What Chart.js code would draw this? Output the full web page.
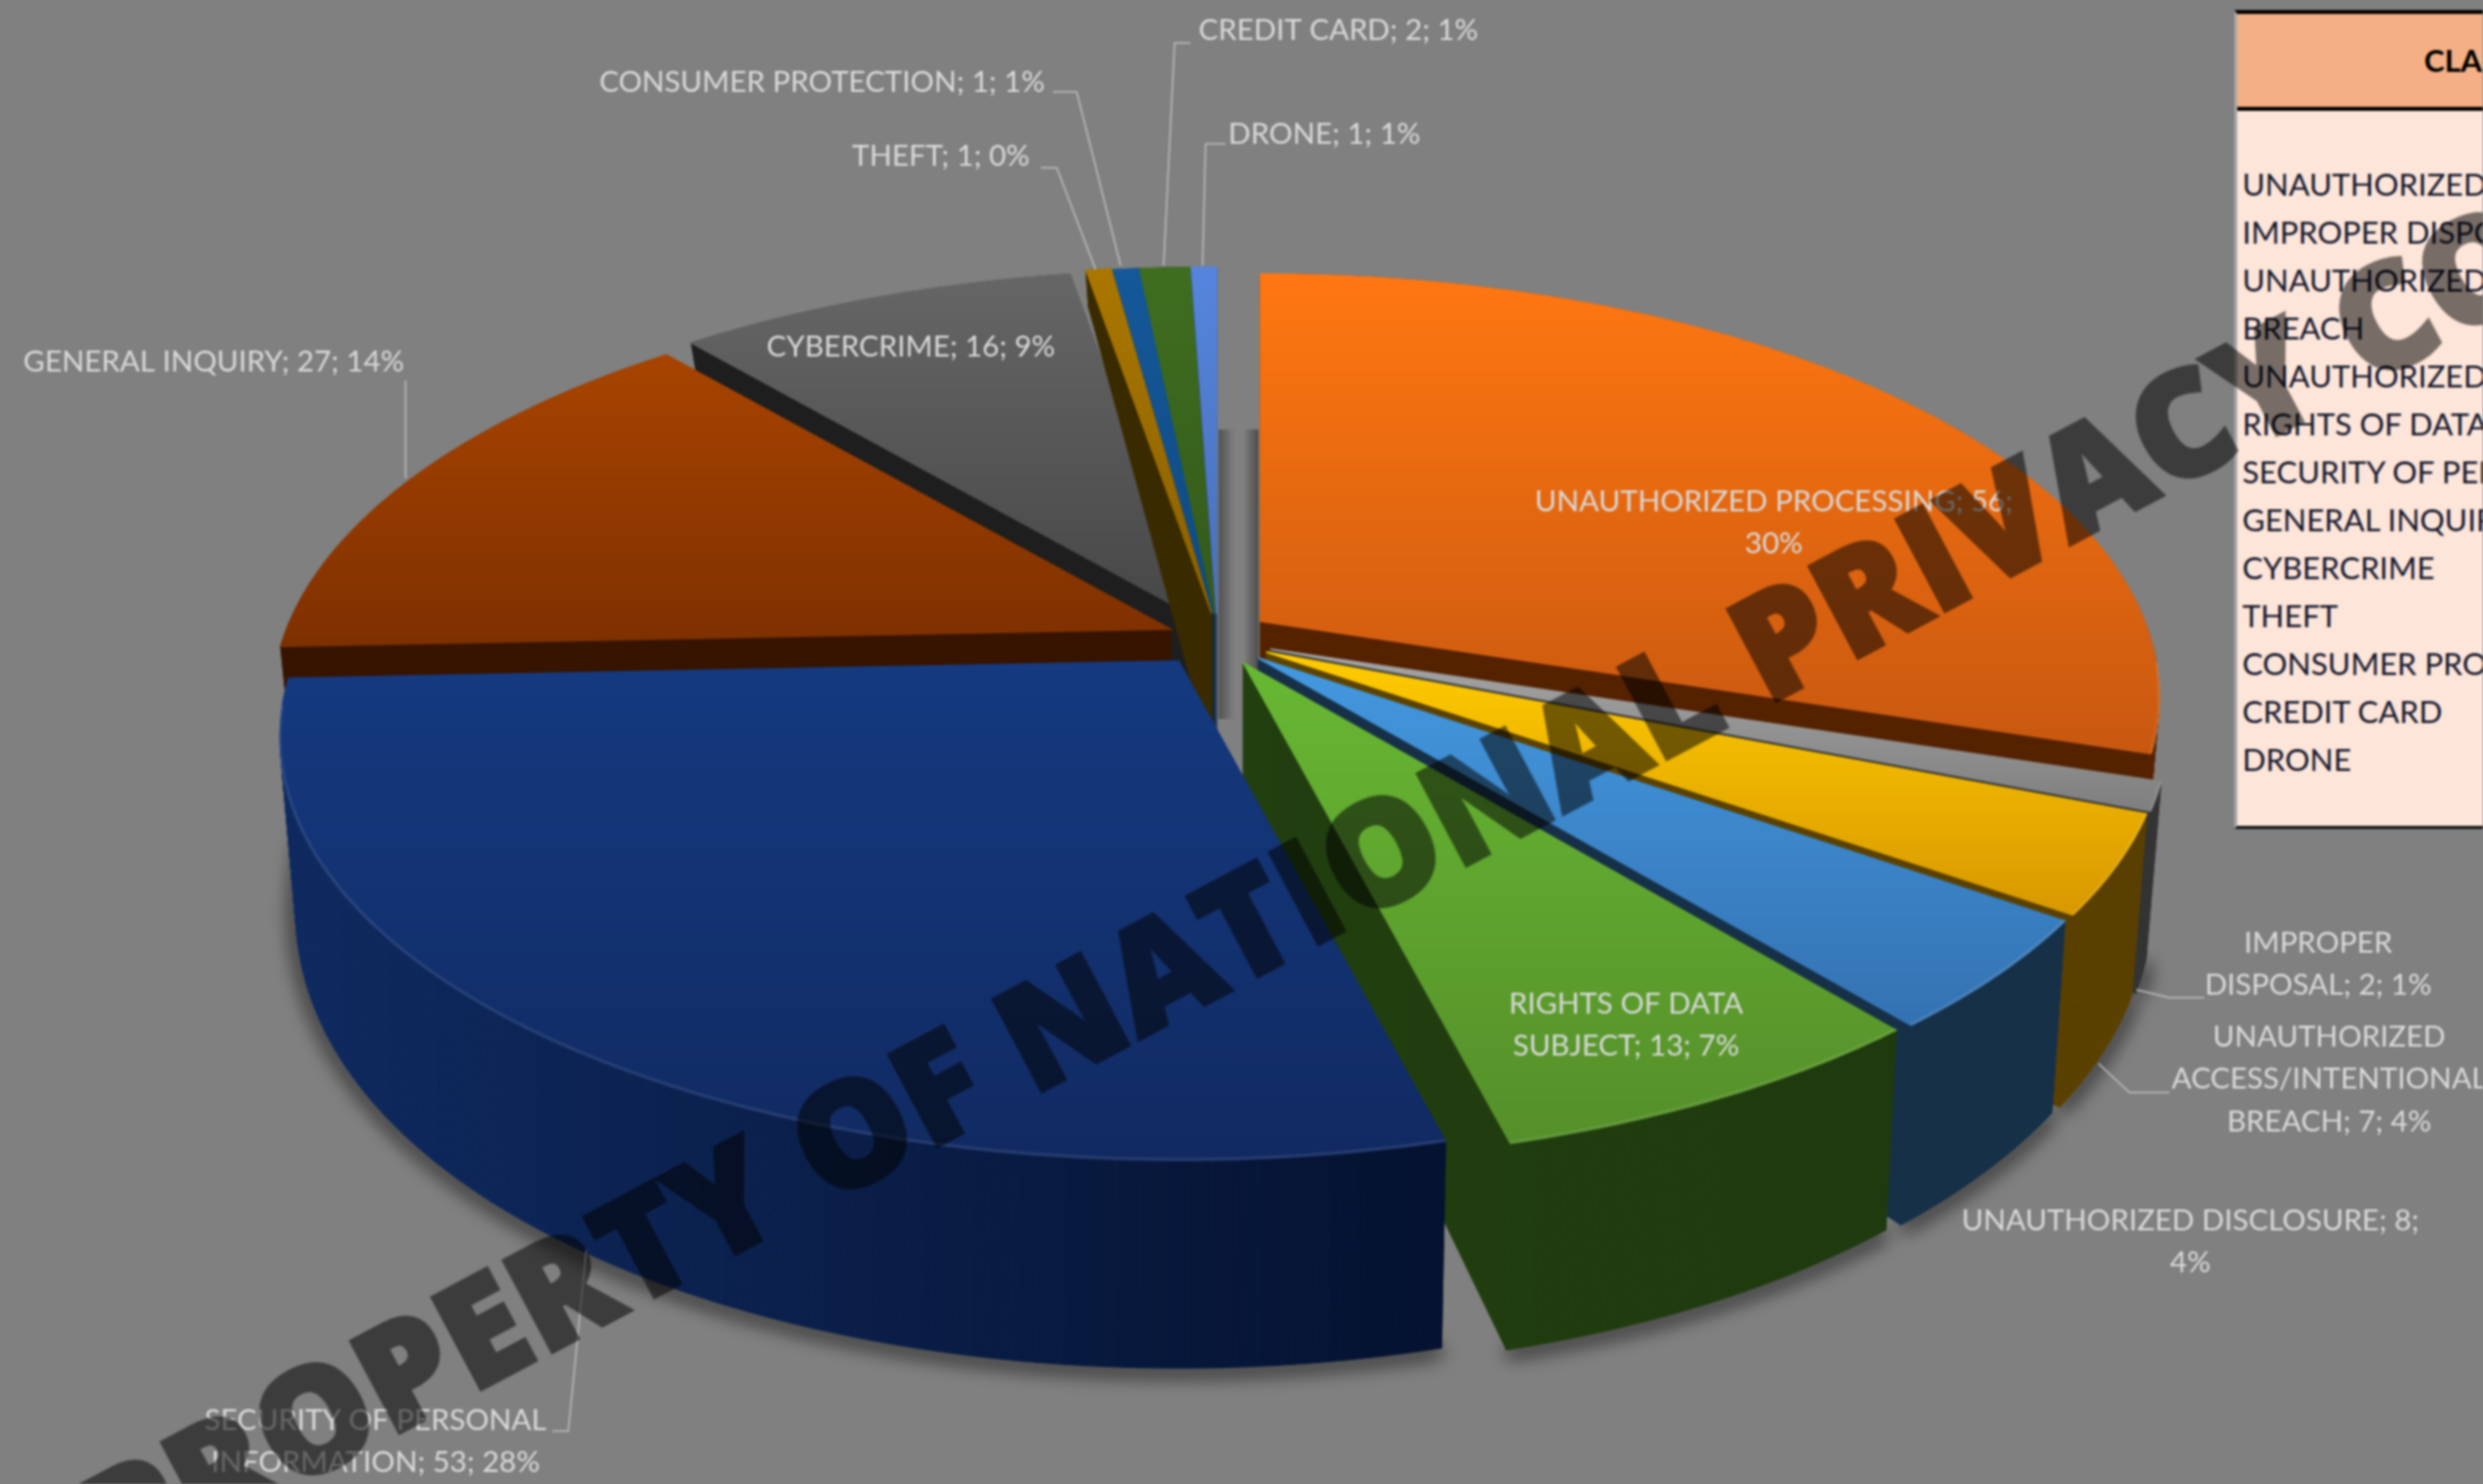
<!DOCTYPE html>
<html>
<head>
<meta charset="utf-8">
<title>Complaints by classification</title>
<script src="https://cdn.jsdelivr.net/npm/chart.js@4"></script>
<style>
    html, body { margin: 0; padding: 0; width: 2486px; height: 1486px; overflow: hidden; background: #808080; }
    #page { position: relative; width: 2486px; height: 1486px; overflow: hidden; filter: blur(0.8px); }
    #myChart { position: absolute; left: 0; top: 0; }
    #sideTable { position: absolute; left: 2237px; top: 10px; width: 249px; height: 820px; background: #fde5d9;
        border-top: 4px solid #000; border-bottom: 3px solid #111; border-left: 3px solid #a8a8a8; box-sizing: border-box;
        overflow: hidden; font-family: Lato, sans-serif; font-size: 31px; color: #14182e; white-space: nowrap; }
    #sideHead { height: 97px; line-height: 92px; background: #f4b084; border-bottom: 4px solid #000; box-sizing: border-box;
        font-weight: bold; color: #000; padding-left: 187px; }
    #sideRows { padding: 49px 0 0 5px; line-height: 48px; }
    #watermark { position: absolute; left: 0; top: 0; white-space: nowrap; font-family: "Open Sans", sans-serif; font-weight: 800;
        font-size: 143px; line-height: 1; letter-spacing: 2px; color: #000; -webkit-text-stroke: 5px #000; opacity: 0.53; transform-origin: 0 0;
        transform: translate(60px, 1471px) rotate(-28deg); }
</style>
</head>
<body>
<div id="page">
    <canvas id="myChart" width="2486" height="1486"></canvas>
    <div id="sideTable"><div id="sideHead">CLASSIFICATION</div><div id="sideRows"></div></div>
    <div id="watermark">PROPERTY OF NATIONAL PRIVACY COMMISSION</div>
</div>
<script>
// data
const categories = ["UNAUTHORIZED PROCESSING", "IMPROPER DISPOSAL", "UNAUTHORIZED ACCESS/INTENTIONAL BREACH", "UNAUTHORIZED DISCLOSURE",
    "RIGHTS OF DATA SUBJECT", "SECURITY OF PERSONAL INFORMATION", "GENERAL INQUIRY", "CYBERCRIME", "THEFT", "CONSUMER PROTECTION", "CREDIT CARD", "DRONE"];
const values = [56, 2, 7, 8, 13, 53, 27, 16, 1, 1, 2, 1];
const percents = [30, 1, 4, 4, 7, 28, 14, 9, 0, 1, 1, 1];
const tableRows = ["UNAUTHORIZED PROCESSING", "IMPROPER DISPOSAL", "UNAUTHORIZED ACCESS/INTENTIONAL", "BREACH", "UNAUTHORIZED DISCLOSURE",
    "RIGHTS OF DATA SUBJECT", "SECURITY OF PERSONAL INFORMATION", "GENERAL INQUIRY", "CYBERCRIME", "THEFT", "CONSUMER PROTECTION", "CREDIT CARD", "DRONE"];

// colours of each slice
const topColors = ["#ff7711", "#a6a6a6", "#ffcc00", "#4499e0", "#68b833", "#153a80", "#a84400", "#666666", "#aa7700", "#15589a", "#3f6e20", "#5585dd"];
const bottomColors = ["#c85810", "#7f7f7f", "#d89800", "#3472b2", "#558f2a", "#112a62", "#7e3000", "#474747", "#8a6000", "#104a80", "#345a1a", "#4a70b8"];
const wallLeft = ["#552200", "#3a3a3a", "#5c4300", "#173048", "#223f10", "#0f2a60", "#361400", "#1e1e1e", "#3a2a00", "#0a2a48", "#203010", "#2a3f6a"];
const wallRight = ["#552200", "#333333", "#5a4000", "#163048", "#1f3a0e", "#051230", "#361400", "#1e1e1e", "#3a2a00", "#0a2a48", "#203010", "#2a3f6a"];

// where each exploded slice has its point, and the order to paint them back to front
const tipX = [1262, 1272, 1268, 1260, 1245, 1180, 1172, 1197, 1213, 1215, 1216, 1218];
const tipY = [622, 650, 653, 659, 664, 662, 630, 618, 614, 615, 615, 615];
const paintOrder = [0, 1, 2, 3, 4, 7, 11, 10, 9, 8, 6, 5];

// perspective of the pie plane
const radiusX = 885, radiusY = 410, tilt = 0.18;

// label text and layout
const labelLines = [
    ["UNAUTHORIZED PROCESSING; 56;", "30%"], ["IMPROPER", "DISPOSAL; 2; 1%"], ["UNAUTHORIZED", "ACCESS/INTENTIONAL", "BREACH; 7; 4%"],
    ["UNAUTHORIZED DISCLOSURE; 8;", "4%"], ["RIGHTS OF DATA", "SUBJECT; 13; 7%"], ["SECURITY OF PERSONAL", "INFORMATION; 53; 28%"],
    ["GENERAL INQUIRY; 27; 14%"], ["CYBERCRIME; 16; 9%"], ["THEFT; 1; 0%"], ["CONSUMER PROTECTION; 1; 1%"], ["CREDIT CARD; 2; 1%"], ["DRONE; 1; 1%"]];
const labelX = [1776, 2321, 2332, 2193, 1628, 376, 214, 912, 942, 823, 1340, 1326];
const labelY = [502, 944, 1038, 1222, 1005, 1422, 362, 347, 156, 82, 30, 134];
const leaders = [
    [[2207, 999], [2172, 999], [2139, 991]], [[2172, 1094], [2132, 1094], [2101, 1065]], [[553, 1433], [569, 1433], [587, 1252]],
    [[406, 381], [406, 479]], [[1042, 168], [1058, 168], [1097, 270]], [[1054, 92], [1078, 92], [1122, 266]],
    [[1192, 43], [1176, 43], [1165, 266]], [[1227, 144], [1207, 144], [1204, 266]]];

document.getElementById("sideRows").innerHTML = tableRows.join("<br>");

function project(i, angle) {
    var u = Math.cos(angle), v = Math.sin(angle);
    var w = 1 - tilt * v;
    return { x: tipX[i] + radiusX * u / w, y: tipY[i] + radiusY * v / w, u: u, v: v };
}

// walls get longer towards the viewer
function dropPoint(p) {
    var depth = p.v >= 0 ? 143 + 65 * Math.sqrt(p.v) : 143 + 107 * p.v;
    return { x: p.x - 16 * p.u, y: p.y + depth };
}

function rimPoints(i, arc) {
    var pts = [];
    var steps = Math.max(2, Math.ceil((arc.endAngle - arc.startAngle) * 90));
    for (var s = 0; s <= steps; s++) {
        pts.push(project(i, arc.startAngle + (arc.endAngle - arc.startAngle) * s / steps));
    }
    return pts;
}

class Arc3D extends Chart.ArcElement {
    draw(ctx) {
        var i = this.sliceIndex;
        var rim = rimPoints(i, this);
        var tip = { x: tipX[i], y: tipY[i], u: 0, v: 0 };
        var outline = [tip].concat(rim);

        var minX = Math.min.apply(null, outline.map(function (p) { return p.x; }));
        var maxX = Math.max.apply(null, outline.map(function (p) { return p.x; }));
        var minY = Math.min.apply(null, outline.map(function (p) { return p.y; }));
        var maxY = Math.max.apply(null, outline.map(function (p) { return p.y; }));

        // side walls
        var wall = ctx.createLinearGradient(minX, 0, maxX, 0);
        wall.addColorStop(0, wallLeft[i]);
        wall.addColorStop(1, wallRight[i]);
        ctx.save();
        ctx.fillStyle = wall;
        ctx.strokeStyle = wall;
        ctx.lineWidth = 1;
        for (var k = 0; k < outline.length; k++) {
            var a = outline[k], b = outline[(k + 1) % outline.length];
            var da = dropPoint(a), db = dropPoint(b);
            ctx.beginPath();
            ctx.moveTo(a.x, a.y);
            ctx.lineTo(b.x, b.y);
            ctx.lineTo(db.x, db.y);
            ctx.lineTo(da.x, da.y);
            ctx.closePath();
            ctx.fill();
            ctx.stroke();
        }

        // top face
        var top = ctx.createLinearGradient(0, minY, 0, maxY);
        top.addColorStop(0, topColors[i]);
        top.addColorStop(1, bottomColors[i]);
        ctx.fillStyle = top;
        ctx.strokeStyle = top;
        ctx.lineWidth = 1.5;
        ctx.beginPath();
        outline.forEach(function (p, n) {
            if (n === 0) ctx.moveTo(p.x, p.y); else ctx.lineTo(p.x, p.y);
        });
        ctx.closePath();
        ctx.fill();
        ctx.stroke();

        // faint highlight on the front edge of the top face
        ctx.strokeStyle = "rgba(255,255,255,0.09)";
        ctx.lineWidth = 3;
        ctx.beginPath();
        rim.filter(function (p) { return p.v > 0.1; }).forEach(function (p, n) {
            if (n === 0) ctx.moveTo(p.x, p.y - 1); else ctx.lineTo(p.x, p.y - 1);
        });
        ctx.stroke();
        ctx.restore();
    }
}
Arc3D.id = "arc3d";
Arc3D.defaults = Chart.ArcElement.defaults;

class Pie3D extends Chart.PieController {
    draw() {
        var ctx = this.chart.ctx;
        var arcs = this.getMeta().data;

        // soft shadow on the floor under the front rim
        ctx.save();
        ctx.filter = "blur(9px)";
        ctx.strokeStyle = "rgba(0,0,0,0.6)";
        ctx.lineWidth = 14;
        [1, 2, 3, 4, 5].forEach(function (i) {
            ctx.beginPath();
            rimPoints(i, arcs[i]).forEach(function (p, n) {
                var d = dropPoint(p);
                if (n === 0) ctx.moveTo(d.x, d.y + 3); else ctx.lineTo(d.x, d.y + 3);
            });
            ctx.stroke();
        });
        ctx.restore();

        paintOrder.forEach(function (i) {
            arcs[i].sliceIndex = i;
            arcs[i].draw(ctx);
        });
    }
}
Pie3D.id = "pie3d";
Pie3D.defaults = { dataElementType: "arc3d" };
Pie3D.overrides = Chart.PieController.overrides;

Chart.register(Arc3D, Pie3D);

// dark bands in the gap at the centre of the pie
const gapShade = {
    id: "gapShade",
    beforeDatasetsDraw: function (chart) {
        var ctx = chart.ctx;
        var g = ctx.createLinearGradient(1220, 0, 1260, 0);
        g.addColorStop(0, "#525252");
        g.addColorStop(0.4, "#808080");
        g.addColorStop(0.62, "#808080");
        g.addColorStop(1, "#4c4c4c");
        ctx.fillStyle = g;
        ctx.fillRect(1220, 430, 40, 290);
    }
};

const dataLabels = {
    id: "dataLabels",
    afterDatasetsDraw: function (chart) {
        var ctx = chart.ctx;
        ctx.save();
        ctx.strokeStyle = "#bdbdbd";
        ctx.lineWidth = 1.5;
        leaders.forEach(function (line) {
            ctx.beginPath();
            line.forEach(function (p, n) {
                if (n === 0) ctx.moveTo(p[0], p[1]); else ctx.lineTo(p[0], p[1]);
            });
            ctx.stroke();
        });
        ctx.fillStyle = "#d9d9d9";
        ctx.font = "29.5px Lato, sans-serif";
        ctx.textAlign = "center";
        ctx.textBaseline = "middle";
        labelLines.forEach(function (lines, i) {
            lines.forEach(function (text, n) {
                ctx.fillText(text, labelX[i], labelY[i] + n * 42.5);
            });
        });
        ctx.restore();
    }
};

new Chart(document.getElementById("myChart"), {
    type: "pie3d",
    data: {
        labels: categories,
        datasets: [{ data: values, backgroundColor: topColors }]
    },
    options: {
        responsive: false,
        animation: false,
        plugins: { legend: { display: false }, tooltip: { enabled: false } }
    },
    plugins: [gapShade, dataLabels]
});
</script>
</body>
</html>
